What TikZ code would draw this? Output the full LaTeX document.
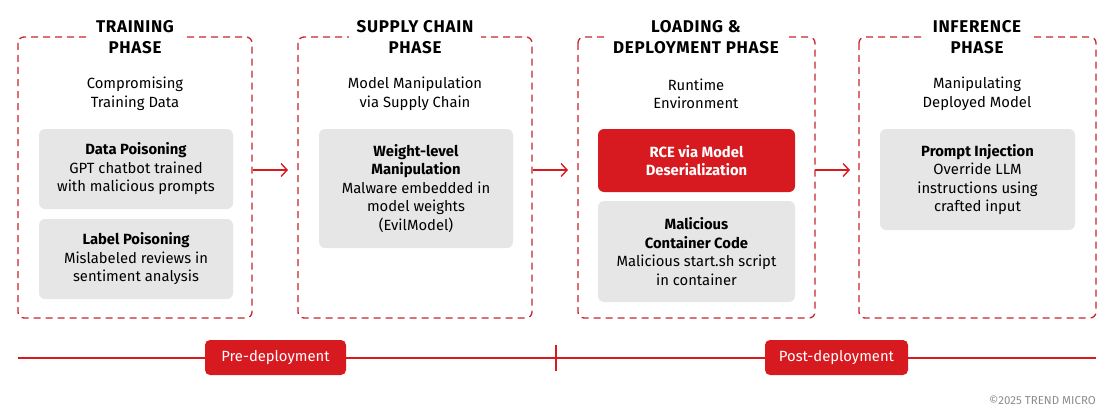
\documentclass[tikz,border=0pt]{standalone}
\usepackage{fontspec}
\setmainfont{Fira Sans}
\usetikzlibrary{arrows.meta}
\definecolor{tred}{HTML}{D71920}
\definecolor{dred}{HTML}{C4262E}
\definecolor{tgray}{HTML}{E6E6E6}
\begin{document}
\begin{tikzpicture}[x=1pt,y=-1pt,
  phase/.style={draw=dred,line width=1.3pt,dash pattern=on 7pt off 5pt,rounded corners=6pt},
  ttl/.style={fill=white,inner xsep=8pt,inner ysep=0pt,align=center,font=\fontsize{17}{20.5}\selectfont\bfseries\addfontfeature{LetterSpace=4}},
  sub/.style={align=center,font=\fontsize{14.8}{18.5}\selectfont},
  card/.style={fill=tgray,rounded corners=6pt,align=center,font=\fontsize{14.8}{18.5}\selectfont},
  redcard/.style={fill=tred,rounded corners=6pt,align=center,text=white,font=\fontsize{14.8}{18.5}\selectfont\bfseries},
  arr/.style={draw=tred,line width=1.4pt,-{Straight Barb[length=6pt,width=13pt,line width=1.4pt]}},
  tag/.style={fill=tred,rounded corners=5pt,text=white,font=\fontsize{14.8}{16}\selectfont,minimum height=35pt,inner xsep=0pt},
]
\useasboundingbox (0,0) rectangle (1108,420);
% phases
\draw[phase] (18,37) rectangle (252,318);
\draw[phase] (298,37) rectangle (532,318);
\draw[phase] (578,37) rectangle (815,318);
\draw[phase] (859,37) rectangle (1096,318);
\node[ttl] (t1) at (135,37) {TRAINING\\PHASE};
\node[ttl] (t2) at (415,37) {SUPPLY CHAIN\\PHASE};
\node[ttl] (t3) at (696,37) {LOADING \&\\DEPLOYMENT PHASE};
\node[ttl] (t4) at (977,37) {INFERENCE\\PHASE};
\node[sub] (s1) at (135,94) {Compromising\\Training Data};
\node[sub] (s2) at (415,94) {Model Manipulation\\via Supply Chain};
\node[sub] (s3) at (696,94) {Runtime\\Environment};
\node[sub] (s4) at (977,94) {Manipulating\\Deployed Model};
% cards
\node[card,minimum width=194pt,minimum height=80pt] (c1) at (136,169) {\textbf{Data Poisoning}\\GPT chatbot trained\\with malicious prompts};
\node[card,minimum width=194pt,minimum height=80pt] (c2) at (136,259) {\textbf{Label Poisoning}\\Mislabeled reviews in\\sentiment analysis};
\node[card,minimum width=194pt,minimum height=119pt] (c3) at (416,188.5) {\textbf{Weight-level}\\\textbf{Manipulation}\\Malware embedded in\\model weights\\(EvilModel)};
\node[redcard,minimum width=197pt,minimum height=63pt] (c4) at (696.5,160.5) {RCE via Model\\Deserialization};
\node[card,minimum width=197pt,minimum height=101pt] (c5) at (696.5,251.5) {\textbf{Malicious}\\\textbf{Container Code}\\Malicious start.sh script\\in container};
\node[card,minimum width=195pt,minimum height=101pt] (c6) at (977.5,179.5) {\textbf{Prompt Injection}\\Override LLM\\instructions using\\crafted input};
% arrows
\coordinate (a1s) at (253,170); \coordinate (a1e) at (288,170);
\coordinate (a2s) at (533,170); \coordinate (a2e) at (568,170);
\coordinate (a3s) at (815,170); \coordinate (a3e) at (850,170);
\draw[arr] (a1s) -- (a1e);
\draw[arr] (a2s) -- (a2e);
\draw[arr] (a3s) -- (a3e);
% timeline
\coordinate (l0) at (18,358); \coordinate (l1) at (1096,358);
\coordinate (k0) at (556,345); \coordinate (k1) at (556,371);
\draw[tred,line width=1.4pt] (l0) -- (l1);
\draw[tred,line width=1.4pt] (k0) -- (k1);
\node[tag,minimum width=141pt] (pre) at (275.5,357.5) {Pre-deployment};
\node[tag,minimum width=143pt] (post) at (836.5,357.5) {Post-deployment};
\node[anchor=east,text=black!45,font=\fontsize{11.5}{13}\selectfont,inner sep=0pt] (cp) at (1096,400) {©2025 TREND MICRO};
\end{tikzpicture}
\end{document}
